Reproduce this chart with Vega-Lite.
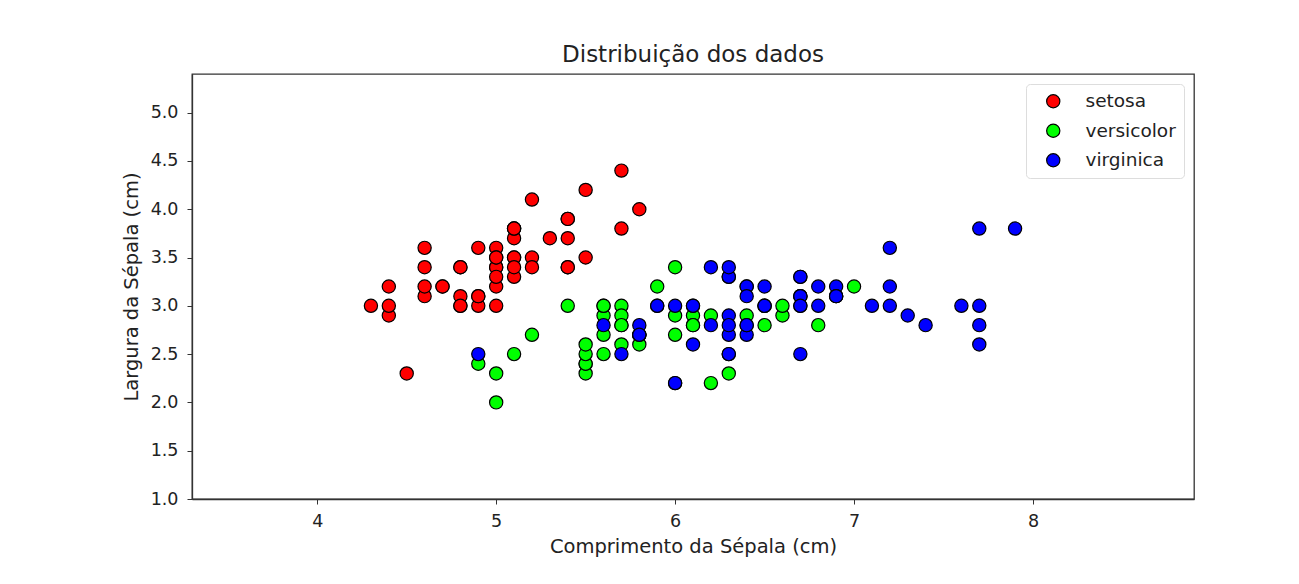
{
  "$schema": "https://vega.github.io/schema/vega-lite/v6.json",
  "autosize": {"type": "none"},
  "width": 1002,
  "height": 425,
  "padding": {"left": 192, "top": 74, "right": 105, "bottom": 85},
  "background": "white",
  "title": {"text": "Distribuição dos dados", "font": "DejaVu Sans", "fontSize": 23, "fontWeight": "normal", "color": "#222", "offset": 7},
  "config": {
    "view": {"stroke": "#333", "strokeWidth": 1.3},
    "axis": {"grid": false, "domainColor": "#333", "tickColor": "#333", "labelColor": "#222", "titleColor": "#222", "labelFont": "DejaVu Sans", "titleFont": "DejaVu Sans", "labelFontSize": 17.5, "titleFontSize": 19.5, "titleFontWeight": "normal", "tickSize": 5, "domainWidth": 1.3}
  },
  "data": {"values": [
    {"sl":5.1,"sw":3.5,"sp":"setosa"},{"sl":4.9,"sw":3.0,"sp":"setosa"},{"sl":4.7,"sw":3.2,"sp":"setosa"},{"sl":4.6,"sw":3.1,"sp":"setosa"},{"sl":5.0,"sw":3.6,"sp":"setosa"},
    {"sl":5.4,"sw":3.9,"sp":"setosa"},{"sl":4.6,"sw":3.4,"sp":"setosa"},{"sl":5.0,"sw":3.4,"sp":"setosa"},{"sl":4.4,"sw":2.9,"sp":"setosa"},{"sl":4.9,"sw":3.1,"sp":"setosa"},
    {"sl":5.4,"sw":3.7,"sp":"setosa"},{"sl":4.8,"sw":3.4,"sp":"setosa"},{"sl":4.8,"sw":3.0,"sp":"setosa"},{"sl":4.3,"sw":3.0,"sp":"setosa"},{"sl":5.8,"sw":4.0,"sp":"setosa"},
    {"sl":5.7,"sw":4.4,"sp":"setosa"},{"sl":5.4,"sw":3.9,"sp":"setosa"},{"sl":5.1,"sw":3.5,"sp":"setosa"},{"sl":5.7,"sw":3.8,"sp":"setosa"},{"sl":5.1,"sw":3.8,"sp":"setosa"},
    {"sl":5.4,"sw":3.4,"sp":"setosa"},{"sl":5.1,"sw":3.7,"sp":"setosa"},{"sl":4.6,"sw":3.6,"sp":"setosa"},{"sl":5.1,"sw":3.3,"sp":"setosa"},{"sl":4.8,"sw":3.4,"sp":"setosa"},
    {"sl":5.0,"sw":3.0,"sp":"setosa"},{"sl":5.0,"sw":3.4,"sp":"setosa"},{"sl":5.2,"sw":3.5,"sp":"setosa"},{"sl":5.2,"sw":3.4,"sp":"setosa"},{"sl":4.7,"sw":3.2,"sp":"setosa"},
    {"sl":4.8,"sw":3.1,"sp":"setosa"},{"sl":5.4,"sw":3.4,"sp":"setosa"},{"sl":5.2,"sw":4.1,"sp":"setosa"},{"sl":5.5,"sw":4.2,"sp":"setosa"},{"sl":4.9,"sw":3.1,"sp":"setosa"},
    {"sl":5.0,"sw":3.2,"sp":"setosa"},{"sl":5.5,"sw":3.5,"sp":"setosa"},{"sl":4.9,"sw":3.6,"sp":"setosa"},{"sl":4.4,"sw":3.0,"sp":"setosa"},{"sl":5.1,"sw":3.4,"sp":"setosa"},
    {"sl":5.0,"sw":3.5,"sp":"setosa"},{"sl":4.5,"sw":2.3,"sp":"setosa"},{"sl":4.4,"sw":3.2,"sp":"setosa"},{"sl":5.0,"sw":3.5,"sp":"setosa"},{"sl":5.1,"sw":3.8,"sp":"setosa"},
    {"sl":4.8,"sw":3.0,"sp":"setosa"},{"sl":5.1,"sw":3.8,"sp":"setosa"},{"sl":4.6,"sw":3.2,"sp":"setosa"},{"sl":5.3,"sw":3.7,"sp":"setosa"},{"sl":5.0,"sw":3.3,"sp":"setosa"},
    {"sl":7.0,"sw":3.2,"sp":"versicolor"},{"sl":6.4,"sw":3.2,"sp":"versicolor"},{"sl":6.9,"sw":3.1,"sp":"versicolor"},{"sl":5.5,"sw":2.3,"sp":"versicolor"},{"sl":6.5,"sw":2.8,"sp":"versicolor"},
    {"sl":5.7,"sw":2.8,"sp":"versicolor"},{"sl":6.3,"sw":3.3,"sp":"versicolor"},{"sl":4.9,"sw":2.4,"sp":"versicolor"},{"sl":6.6,"sw":2.9,"sp":"versicolor"},{"sl":5.2,"sw":2.7,"sp":"versicolor"},
    {"sl":5.0,"sw":2.0,"sp":"versicolor"},{"sl":5.9,"sw":3.0,"sp":"versicolor"},{"sl":6.0,"sw":2.2,"sp":"versicolor"},{"sl":6.1,"sw":2.9,"sp":"versicolor"},{"sl":5.6,"sw":2.9,"sp":"versicolor"},
    {"sl":6.7,"sw":3.1,"sp":"versicolor"},{"sl":5.6,"sw":3.0,"sp":"versicolor"},{"sl":5.8,"sw":2.7,"sp":"versicolor"},{"sl":6.2,"sw":2.2,"sp":"versicolor"},{"sl":5.6,"sw":2.5,"sp":"versicolor"},
    {"sl":5.9,"sw":3.2,"sp":"versicolor"},{"sl":6.1,"sw":2.8,"sp":"versicolor"},{"sl":6.3,"sw":2.5,"sp":"versicolor"},{"sl":6.1,"sw":2.8,"sp":"versicolor"},{"sl":6.4,"sw":2.9,"sp":"versicolor"},
    {"sl":6.6,"sw":3.0,"sp":"versicolor"},{"sl":6.8,"sw":2.8,"sp":"versicolor"},{"sl":6.7,"sw":3.0,"sp":"versicolor"},{"sl":6.0,"sw":2.9,"sp":"versicolor"},{"sl":5.7,"sw":2.6,"sp":"versicolor"},
    {"sl":5.5,"sw":2.4,"sp":"versicolor"},{"sl":5.5,"sw":2.4,"sp":"versicolor"},{"sl":5.8,"sw":2.7,"sp":"versicolor"},{"sl":6.0,"sw":2.7,"sp":"versicolor"},{"sl":5.4,"sw":3.0,"sp":"versicolor"},
    {"sl":6.0,"sw":3.4,"sp":"versicolor"},{"sl":6.7,"sw":3.1,"sp":"versicolor"},{"sl":6.3,"sw":2.3,"sp":"versicolor"},{"sl":5.6,"sw":3.0,"sp":"versicolor"},{"sl":5.5,"sw":2.5,"sp":"versicolor"},
    {"sl":5.5,"sw":2.6,"sp":"versicolor"},{"sl":6.1,"sw":3.0,"sp":"versicolor"},{"sl":5.8,"sw":2.6,"sp":"versicolor"},{"sl":5.0,"sw":2.3,"sp":"versicolor"},{"sl":5.6,"sw":2.7,"sp":"versicolor"},
    {"sl":5.7,"sw":3.0,"sp":"versicolor"},{"sl":5.7,"sw":2.9,"sp":"versicolor"},{"sl":6.2,"sw":2.9,"sp":"versicolor"},{"sl":5.1,"sw":2.5,"sp":"versicolor"},{"sl":5.7,"sw":2.8,"sp":"versicolor"},
    {"sl":6.3,"sw":3.3,"sp":"virginica"},{"sl":5.8,"sw":2.7,"sp":"virginica"},{"sl":7.1,"sw":3.0,"sp":"virginica"},{"sl":6.3,"sw":2.9,"sp":"virginica"},{"sl":6.5,"sw":3.0,"sp":"virginica"},
    {"sl":7.6,"sw":3.0,"sp":"virginica"},{"sl":4.9,"sw":2.5,"sp":"virginica"},{"sl":7.3,"sw":2.9,"sp":"virginica"},{"sl":6.7,"sw":2.5,"sp":"virginica"},{"sl":7.2,"sw":3.6,"sp":"virginica"},
    {"sl":6.5,"sw":3.2,"sp":"virginica"},{"sl":6.4,"sw":2.7,"sp":"virginica"},{"sl":6.8,"sw":3.0,"sp":"virginica"},{"sl":5.7,"sw":2.5,"sp":"virginica"},{"sl":5.8,"sw":2.8,"sp":"virginica"},
    {"sl":6.4,"sw":3.2,"sp":"virginica"},{"sl":6.5,"sw":3.0,"sp":"virginica"},{"sl":7.7,"sw":3.8,"sp":"virginica"},{"sl":7.7,"sw":2.6,"sp":"virginica"},{"sl":6.0,"sw":2.2,"sp":"virginica"},
    {"sl":6.9,"sw":3.2,"sp":"virginica"},{"sl":5.6,"sw":2.8,"sp":"virginica"},{"sl":7.7,"sw":2.8,"sp":"virginica"},{"sl":6.3,"sw":2.7,"sp":"virginica"},{"sl":6.7,"sw":3.3,"sp":"virginica"},
    {"sl":7.2,"sw":3.2,"sp":"virginica"},{"sl":6.2,"sw":2.8,"sp":"virginica"},{"sl":6.1,"sw":3.0,"sp":"virginica"},{"sl":6.4,"sw":2.8,"sp":"virginica"},{"sl":7.2,"sw":3.0,"sp":"virginica"},
    {"sl":7.4,"sw":2.8,"sp":"virginica"},{"sl":7.9,"sw":3.8,"sp":"virginica"},{"sl":6.4,"sw":2.8,"sp":"virginica"},{"sl":6.3,"sw":2.8,"sp":"virginica"},{"sl":6.1,"sw":2.6,"sp":"virginica"},
    {"sl":7.7,"sw":3.0,"sp":"virginica"},{"sl":6.3,"sw":3.4,"sp":"virginica"},{"sl":6.4,"sw":3.1,"sp":"virginica"},{"sl":6.0,"sw":3.0,"sp":"virginica"},{"sl":6.9,"sw":3.1,"sp":"virginica"},
    {"sl":6.7,"sw":3.1,"sp":"virginica"},{"sl":6.9,"sw":3.1,"sp":"virginica"},{"sl":5.8,"sw":2.7,"sp":"virginica"},{"sl":6.8,"sw":3.2,"sp":"virginica"},{"sl":6.7,"sw":3.3,"sp":"virginica"},
    {"sl":6.7,"sw":3.0,"sp":"virginica"},{"sl":6.3,"sw":2.5,"sp":"virginica"},{"sl":6.5,"sw":3.0,"sp":"virginica"},{"sl":6.2,"sw":3.4,"sp":"virginica"},{"sl":5.9,"sw":3.0,"sp":"virginica"}
  ]},
  "mark": {"type": "point", "filled": true, "opacity": 1, "stroke": "black", "strokeWidth": 1.2, "size": 175},
  "encoding": {
    "x": {"field": "sl", "type": "quantitative", "title": "Comprimento da Sépala (cm)",
      "scale": {"domain": [3.3, 8.9], "nice": false, "zero": false},
      "axis": {"values": [4, 5, 6, 7, 8], "format": "d", "titlePadding": 8, "labelPadding": 8}},
    "y": {"field": "sw", "type": "quantitative", "title": "Largura da Sépala (cm)",
      "scale": {"domain": [1.0, 5.4], "nice": false, "zero": false},
      "axis": {"values": [1, 1.5, 2, 2.5, 3, 3.5, 4, 4.5, 5], "format": ".1f", "titlePadding": 9, "labelPadding": 9}},
    "color": {"field": "sp", "type": "nominal", "title": null,
      "scale": {"domain": ["setosa", "versicolor", "virginica"], "range": ["#ff0000", "#00ff00", "#0000ff"]},
      "legend": {"orient": "top-right", "offset": 10, "padding": 8, "fillColor": "white", "strokeColor": "#dddddd", "cornerRadius": 4,
        "labelFont": "DejaVu Sans", "labelFontSize": 18.5, "labelColor": "#222", "symbolSize": 175, "symbolStrokeColor": "black", "symbolStrokeWidth": 1.2, "symbolType": "circle", "symbolOffset": 10, "labelOffset": 23, "rowPadding": 10.5}}
  }
}
